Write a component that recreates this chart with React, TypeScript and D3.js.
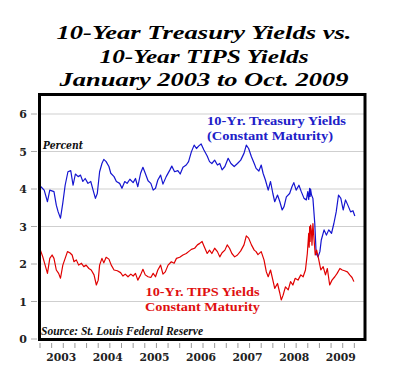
import React from "react";
import * as d3 from "d3";

const titleLines = ["10-Year Treasury Yields vs.", "10-Year TIPS Yields", "January 2003 to Oct. 2009"];
const yTicks = [0, 1, 2, 3, 4, 5, 6];
const yearLabels = ["2003", "2004", "2005", "2006", "2007", "2008", "2009"];

const treasuryDates = [
  2003.0, 2003.02, 2003.09, 2003.16, 2003.21, 2003.3, 2003.35, 2003.39, 2003.44, 2003.49, 2003.54, 2003.6, 2003.66,
  2003.71, 2003.76, 2003.82, 2003.87, 2003.92, 2003.97, 2004.03, 2004.09, 2004.14, 2004.19, 2004.23, 2004.28,
  2004.33, 2004.37, 2004.42, 2004.48, 2004.52, 2004.59, 2004.64, 2004.71, 2004.76, 2004.82, 2004.87, 2004.93,
  2005.0, 2005.05, 2005.1, 2005.16, 2005.21, 2005.26, 2005.32, 2005.38, 2005.43, 2005.48, 2005.53, 2005.59,
  2005.64, 2005.71, 2005.79, 2005.83, 2005.89, 2005.96, 2006.01, 2006.07, 2006.14, 2006.19, 2006.25, 2006.31,
  2006.36, 2006.41, 2006.46, 2006.52, 2006.59, 2006.64, 2006.69, 2006.75, 2006.81, 2006.86, 2006.91, 2006.97,
  2007.04, 2007.1, 2007.17, 2007.24, 2007.31, 2007.38, 2007.43, 2007.48, 2007.54, 2007.6, 2007.64, 2007.7,
  2007.75, 2007.79, 2007.84, 2007.9, 2007.95, 2008.0, 2008.04, 2008.1, 2008.15, 2008.2, 2008.24, 2008.29,
  2008.36, 2008.41, 2008.45, 2008.5, 2008.56, 2008.61, 2008.67, 2008.72, 2008.75, 2008.77, 2008.79, 2008.8,
  2008.81, 2008.83, 2008.86, 2008.9, 2008.93, 2008.97, 2009.01, 2009.04, 2009.1, 2009.15, 2009.2, 2009.26,
  2009.31, 2009.36, 2009.41, 2009.46, 2009.51, 2009.56, 2009.61, 2009.67, 2009.72, 2009.76,
];
const treasuryYields = [
  4.0, 4.06, 3.97, 3.66, 3.97, 3.93, 3.57, 3.39, 3.22, 3.63, 4.1, 4.46, 4.49,
  4.1, 4.4, 4.33, 4.37, 4.2, 4.28, 4.15, 4.2, 3.97, 3.75, 3.88, 4.46,
  4.68, 4.79, 4.73, 4.6, 4.42, 4.33, 4.2, 4.15, 4.02, 4.2, 4.15, 4.26,
  4.17, 4.28, 4.06, 4.42, 4.58, 4.42, 4.22, 4.15, 3.97, 4.02, 4.24, 4.37,
  4.13, 4.33, 4.51, 4.61, 4.46, 4.49, 4.4, 4.58, 4.64, 4.73, 4.99, 5.17,
  5.08, 5.15, 5.2, 5.04, 4.88, 4.73, 4.68, 4.77, 4.64, 4.68, 4.51, 4.6,
  4.82, 4.68, 4.6, 4.68, 4.77, 4.95, 5.17, 5.08, 4.86, 4.68, 4.55, 4.48,
  4.64, 4.42, 4.24, 3.97, 4.2, 3.88, 3.66, 3.84, 3.66, 3.44, 3.53, 3.79,
  3.88, 4.06, 4.17, 3.97, 4.1, 3.93, 3.75, 3.71, 3.93, 3.72, 4.02, 3.8,
  4.0, 3.84, 3.75, 3.08, 2.28, 2.19, 2.33, 2.64, 2.91, 2.77, 2.91, 2.82,
  3.08, 3.39, 3.84, 3.75, 3.44, 3.71, 3.57, 3.39, 3.42, 3.28,
];

const tipsDates = [
  2003.0, 2003.02, 2003.06, 2003.11, 2003.16, 2003.21, 2003.26, 2003.3, 2003.35, 2003.4, 2003.44, 2003.49, 2003.54,
  2003.59, 2003.64, 2003.69, 2003.73, 2003.78, 2003.83, 2003.89, 2003.94, 2003.99, 2004.05, 2004.1, 2004.16,
  2004.21, 2004.25, 2004.28, 2004.33, 2004.37, 2004.42, 2004.48, 2004.53, 2004.59, 2004.66, 2004.73, 2004.78,
  2004.83, 2004.89, 2004.95, 2005.0, 2005.05, 2005.1, 2005.16, 2005.21, 2005.26, 2005.32, 2005.38, 2005.43,
  2005.48, 2005.53, 2005.59, 2005.64, 2005.69, 2005.75, 2005.82, 2005.88, 2005.93, 2006.0, 2006.07, 2006.14,
  2006.19, 2006.25, 2006.32, 2006.38, 2006.43, 2006.48, 2006.52, 2006.59, 2006.64, 2006.69, 2006.75, 2006.81,
  2006.86, 2006.91, 2006.97, 2007.02, 2007.07, 2007.12, 2007.18, 2007.24, 2007.31, 2007.38, 2007.43, 2007.48,
  2007.54, 2007.6, 2007.64, 2007.68, 2007.75, 2007.81, 2007.86, 2007.9, 2007.95, 2008.0, 2008.04, 2008.1,
  2008.15, 2008.18, 2008.22, 2008.27, 2008.33, 2008.38, 2008.43, 2008.48, 2008.54, 2008.6, 2008.65, 2008.7,
  2008.74, 2008.77, 2008.78, 2008.79, 2008.8, 2008.81, 2008.83, 2008.84, 2008.86, 2008.88, 2008.91, 2008.94,
  2008.98, 2009.03, 2009.08, 2009.13, 2009.17, 2009.22, 2009.27, 2009.33, 2009.38, 2009.44, 2009.49, 2009.54,
  2009.6, 2009.65, 2009.7, 2009.74,
];
const tipsYields = [
  2.4, 2.33, 2.19, 1.97, 1.75, 2.15, 2.24, 2.15, 1.84, 1.75, 1.62, 1.97, 2.15,
  2.33, 2.3, 2.24, 2.06, 2.11, 1.97, 2.02, 1.93, 1.97, 1.88, 1.84, 1.71,
  1.44, 1.57, 1.97, 2.15, 2.03, 2.18, 2.13, 1.97, 1.84, 1.82, 1.77, 1.68,
  1.73, 1.66, 1.73, 1.68, 1.75, 1.57, 1.71, 1.86, 1.71, 1.66, 1.64, 1.75,
  1.66, 1.84, 1.97, 1.73, 1.79, 1.97, 2.06, 2.02, 2.15, 2.18, 2.24, 2.28,
  2.33, 2.39, 2.42, 2.51, 2.55, 2.6, 2.48, 2.28, 2.37, 2.28, 2.42, 2.33,
  2.19, 2.3, 2.37, 2.51, 2.42, 2.28, 2.19, 2.24, 2.35, 2.51, 2.75, 2.69,
  2.51, 2.37, 2.33, 2.25, 2.33, 2.11, 1.79, 1.66, 1.84, 1.57, 1.35, 1.48,
  1.22, 1.04, 1.17, 1.39, 1.31, 1.53, 1.44, 1.62, 1.57, 1.71, 1.66, 1.84,
  2.28, 2.82, 2.45, 3.0, 2.6, 3.04, 2.86, 2.5, 3.08, 2.73, 2.24, 2.37,
  2.15, 1.84, 1.93, 1.71, 1.88, 1.44, 1.57, 1.66, 1.75, 1.88, 1.84, 1.82,
  1.79, 1.71, 1.64, 1.53,
];

const quarterTicks = d3.range(0, 28).map((i) => 2003 + i * 0.25);

export default function App() {
  const W = 400;
  const H = 383;
  const left = 39.5;
  const right = 365;
  const top = 94.5;
  const bottom = 339.5;
  const x = d3.scaleLinear().domain([2003, 2010]).range([40, 366]);
  const y = d3.scaleLinear().domain([0, 6]).range([339, 114]);

  const tSeries = treasuryDates.map((d, i) => [d, treasuryYields[i]] as [number, number]);
  const rSeries = tipsDates.map((d, i) => [d, tipsYields[i]] as [number, number]);
  const line = d3
    .line<[number, number]>()
    .x((d) => x(d[0]))
    .y((d) => y(d[1]));

  const serif = "'DejaVu Serif', serif";
  const lib = "'Liberation Serif', serif";
  const titleWidths = [295, 209, 289];
  const titleBase = [39, 63, 86];

  return (
    <div style={{ position: "fixed", left: 0, top: 0 }}>
      <svg width={W} height={H} style={{ display: "block", background: "#fff" }}>
        <rect x={0} y={0} width={W} height={H} fill="#fff" />
        {titleLines.map((t, i) => (
          <text
            key={i}
            x={204}
            y={titleBase[i]}
            textAnchor="middle"
            fontFamily={lib}
            fontWeight="bold"
            fontStyle="italic"
            fontSize={19}
            textLength={titleWidths[i]}
            lengthAdjust="spacingAndGlyphs"
            fill="#000"
          >
            {t}
          </text>
        ))}

        {/* gridlines */}
        {yTicks.map((v) => (
          <g key={v}>
            <line x1={left} x2={right} y1={y(v)} y2={y(v)} stroke="#cfcfcf" strokeWidth={1} />
            <line x1={31} x2={37} y1={y(v)} y2={y(v)} stroke="#aaa" strokeWidth={1} />
            <text
              x={27}
              y={y(v) + 4}
              textAnchor="end"
              fontFamily={serif}
              fontWeight="bold"
              fontSize={11}
              fill="#222"
            >
              {v}
            </text>
          </g>
        ))}

        {/* x ticks */}
        {quarterTicks.map((q) => (
          <line key={q} x1={x(q)} x2={x(q)} y1={343} y2={348} stroke="#999" strokeWidth={1} />
        ))}
        {yearLabels.map((yl, i) => (
          <text
            key={yl}
            x={x(2003 + i + 0.5) - 2}
            y={361}
            textAnchor="middle"
            fontFamily={serif}
            fontWeight="bold"
            fontSize={11}
            textLength={30}
            lengthAdjust="spacingAndGlyphs"
            fill="#222"
          >
            {yl}
          </text>
        ))}

        <path d={line(tSeries) || ""} fill="none" stroke="#1515d0" strokeWidth={1.2} strokeLinejoin="round" />
        <path d={line(rSeries) || ""} fill="none" stroke="#e00000" strokeWidth={1.2} strokeLinejoin="round" />

        <text x={43} y={148.5} fontFamily={serif} fontStyle="italic" fontWeight="bold" fontSize={10.5} textLength={40} lengthAdjust="spacingAndGlyphs" fill="#111">
          Percent
        </text>

        <text x={207} y={125} fontFamily={lib} fontWeight="bold" fontSize={13} textLength={139} lengthAdjust="spacingAndGlyphs" fill="#2020c8">
          10-Yr. Treasury Yields
        </text>
        <text x={207} y={139.5} fontFamily={lib} fontWeight="bold" fontSize={13} textLength={126} lengthAdjust="spacingAndGlyphs" fill="#2020c8">
          (Constant Maturity)
        </text>

        <text x={145.5} y={296} fontFamily={lib} fontWeight="bold" fontSize={13} textLength={114} lengthAdjust="spacingAndGlyphs" fill="#e01010">
          10-Yr. TIPS Yields
        </text>
        <text x={145} y={310.5} fontFamily={lib} fontWeight="bold" fontSize={13} textLength={115} lengthAdjust="spacingAndGlyphs" fill="#e01010">
          Constant Maturity
        </text>

        <text x={41} y={334.5} fontFamily={lib} fontStyle="italic" fontWeight="bold" fontSize={11.5} textLength={162} lengthAdjust="spacingAndGlyphs" fill="#111">
          Source: St. Louis Federal Reserve
        </text>

        <rect x={left} y={top} width={right - left} height={bottom - top} fill="none" stroke="#000" strokeWidth={3} />
      </svg>
    </div>
  );
}
